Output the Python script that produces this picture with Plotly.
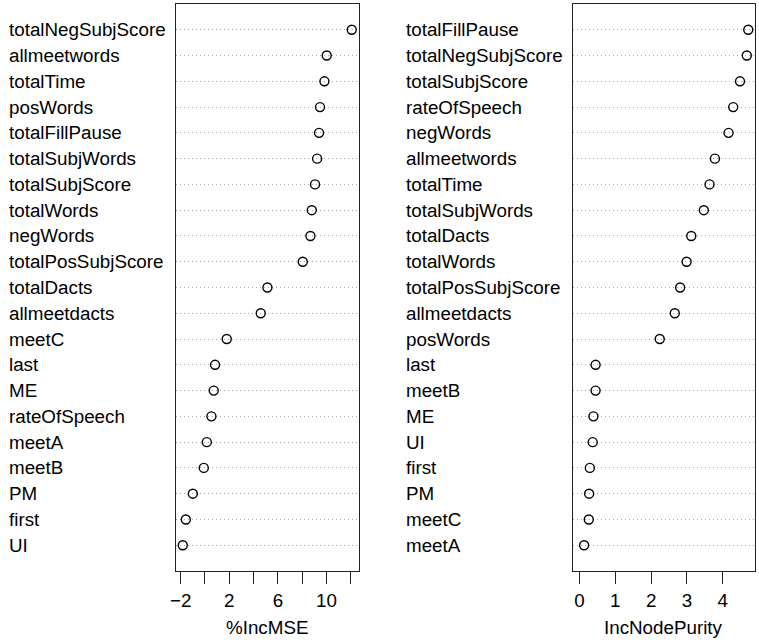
import plotly.graph_objects as go

# ---- data ----
mse_labels = ["totalNegSubjScore", "allmeetwords", "totalTime", "posWords", "totalFillPause",
              "totalSubjWords", "totalSubjScore", "totalWords", "negWords", "totalPosSubjScore",
              "totalDacts", "allmeetdacts", "meetC", "last", "ME", "rateOfSpeech", "meetA",
              "meetB", "PM", "first", "UI"]
mse_values = [12.08, 10.02, 9.83, 9.47, 9.39, 9.23, 9.06, 8.79, 8.68, 8.05,
              5.14, 4.59, 1.79, 0.83, 0.72, 0.53, 0.15, -0.10, -1.00, -1.58, -1.83]

purity_labels = ["totalFillPause", "totalNegSubjScore", "totalSubjScore", "rateOfSpeech",
                 "negWords", "allmeetwords", "totalTime", "totalSubjWords", "totalDacts",
                 "totalWords", "totalPosSubjScore", "allmeetdacts", "posWords", "last", "meetB",
                 "ME", "UI", "first", "PM", "meetC", "meetA"]
purity_values = [4.71, 4.67, 4.48, 4.29, 4.16, 3.78, 3.63, 3.47, 3.12, 2.99, 2.81,
                 2.66, 2.24, 0.45, 0.45, 0.39, 0.37, 0.29, 0.27, 0.26, 0.13]

mse_ticks = [-2, 0, 2, 4, 6, 8, 10, 12]
mse_ticktext = ["\u22122", "", "2", "", "6", "", "10", ""]
purity_ticks = [0, 1, 2, 3, 4]
purity_ticktext = ["0", "1", "2", "3", "4"]

W, H = 759, 643
FONT = "Liberation Sans, Arial, Helvetica, sans-serif"
FS = 18.8

n = len(mse_labels)
rows = list(range(n, 0, -1))


def ext(lo, hi):
    d = (hi - lo) * 0.04
    return [lo - d, hi + d]


fig = go.Figure()
fig.add_trace(go.Scatter(x=mse_values, y=rows, mode="markers", xaxis="x", yaxis="y",
                         marker=dict(symbol="circle-open", size=9, color="black",
                                     line=dict(width=1.4, color="black")),
                         showlegend=False, hoverinfo="skip"))
fig.add_trace(go.Scatter(x=purity_values, y=rows, mode="markers", xaxis="x2", yaxis="y2",
                         marker=dict(symbol="circle-open", size=9, color="black",
                                     line=dict(width=1.4, color="black")),
                         showlegend=False, hoverinfo="skip"))

ydom = [1 - 571 / H, 1 - 4 / H]
xdom1 = [176 / W, 358.5 / W]
xdom2 = [572.7 / W, 755 / W]

common_x = dict(showline=True, mirror=True, linecolor="#222", linewidth=1.2,
                ticks="outside", ticklen=12, tickwidth=1.2, tickcolor="#222",
                showgrid=False, zeroline=False, automargin=False,
                tickfont=dict(family=FONT, size=FS, color="black"),
                tickmode="array")
common_y = dict(showline=True, mirror=True, linecolor="#222", linewidth=1.2,
                range=[0, n + 1], tickmode="array", tickvals=rows,
                showticklabels=False, ticks="", showgrid=True,
                gridcolor="#a8a8a8", griddash="1px,3px", gridwidth=1,
                zeroline=False, automargin=False, domain=ydom)

fig.update_layout(
    width=W, height=H,
    margin=dict(l=0, r=0, t=0, b=0),
    paper_bgcolor="white", plot_bgcolor="white",
    font=dict(family=FONT, size=FS, color="black"),
    xaxis=dict(domain=xdom1, range=ext(min(mse_values), max(mse_values)),
               tickvals=mse_ticks, ticktext=mse_ticktext, anchor="y", **common_x),
    yaxis=dict(anchor="x", **common_y),
    xaxis2=dict(domain=xdom2, range=ext(0, max(purity_values)),
                tickvals=purity_ticks, ticktext=purity_ticktext, anchor="y2", **common_x),
    yaxis2=dict(anchor="x2", **common_y),
)

ann = []
for lab, r in zip(mse_labels, rows):
    ann.append(dict(text=lab, x=6.5 / W, xref="paper", xanchor="left",
                    y=r, yref="y", yanchor="middle", showarrow=False,
                    font=dict(family=FONT, size=FS, color="black")))
for lab, r in zip(purity_labels, rows):
    ann.append(dict(text=lab, x=404 / W, xref="paper", xanchor="left",
                    y=r, yref="y2", yanchor="middle", showarrow=False,
                    font=dict(family=FONT, size=FS, color="black")))
ann.append(dict(text="%IncMSE", x=sum(xdom1) / 2, xref="paper", xanchor="center",
                y=1 - 627.5 / H, yref="paper", yanchor="middle", showarrow=False,
                font=dict(family=FONT, size=FS, color="black")))
ann.append(dict(text="IncNodePurity", x=sum(xdom2) / 2, xref="paper", xanchor="center",
                y=1 - 627.5 / H, yref="paper", yanchor="middle", showarrow=False,
                font=dict(family=FONT, size=FS, color="black")))
fig.update_layout(annotations=ann)

fig.write_html("out.html", config={"displayModeBar": False},
               post_script="document.body.style.margin='0px';document.body.style.overflow='hidden';")
